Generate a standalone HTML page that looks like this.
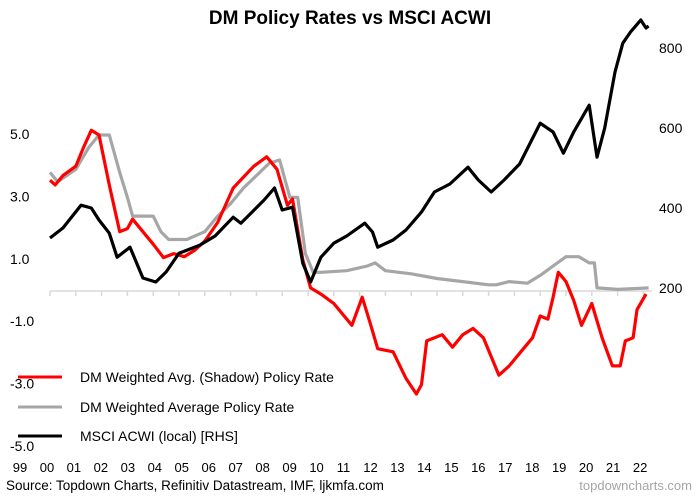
<!DOCTYPE html>
<html><head><meta charset="utf-8"><style>
body{margin:0;background:#fff;}
svg text{font-family:"Liberation Sans",Arial,sans-serif;}
</style></head><body>
<svg id="chart" width="700" height="495" viewBox="0 0 700 495" xmlns="http://www.w3.org/2000/svg">
<text x="350" y="24" text-anchor="middle" font-size="19" font-weight="bold">DM Policy Rates vs MSCI ACWI</text>
<g id="axes"></g>
<g id="series"></g>
<g>
<line x1="18" y1="377" x2="62" y2="377" stroke="#ff0000" stroke-width="3"/>
<text x="80" y="382" font-size="14">DM Weighted Avg. (Shadow) Policy Rate</text>
<line x1="18" y1="407" x2="62" y2="407" stroke="#a6a6a6" stroke-width="3"/>
<text x="80" y="412" font-size="14">DM Weighted Average Policy Rate</text>
<line x1="18" y1="436" x2="62" y2="436" stroke="#000" stroke-width="3"/>
<text x="80" y="441" font-size="14">MSCI ACWI (local) [RHS]</text>
</g>
<text x="6" y="490" font-size="13.5">Source: Topdown Charts, Refinitiv Datastream, IMF, ljkmfa.com</text>
<text x="692" y="490" font-size="13" fill="#a6a6a6" text-anchor="end">topdowncharts.com</text>
</svg>
<script>
const leftTicks=[5,3,1,-1,-3,-5];
const leftTickLabels=["5.0","3.0","1.0","-1.0","-3.0","-5.0"];
const rightTicks=[800,600,400,200];
const yearLabels=["99","00","01","02","03","04","05","06","07","08","09","10","11","12","13","14","15","16","17","18","19","20","21","22"];
const redYears=[1999.0,1999.2,1999.5,2000.0,2000.3,2000.6,2000.9,2001.3,2001.7,2002.0,2002.2,2002.6,2003.0,2003.4,2003.8,2004.2,2004.6,2005.0,2005.5,2006.1,2006.9,2007.4,2007.8,2008.2,2008.4,2008.8,2009.1,2009.5,2010.0,2010.7,2011.1,2011.4,2011.7,2012.3,2012.8,2013.2,2013.4,2013.6,2014.2,2014.6,2015.0,2015.4,2015.8,2016.4,2016.8,2017.3,2017.7,2018.0,2018.3,2018.5,2018.7,2019.0,2019.3,2019.6,2020.0,2020.4,2020.8,2021.1,2021.3,2021.6,2021.75,2022.1];
const redValues=[3.55,3.4,3.7,4.0,4.6,5.15,5.0,3.4,1.9,2.0,2.3,1.9,1.5,1.07,1.2,1.1,1.3,1.6,2.2,3.3,4.0,4.3,3.9,2.75,2.95,1.0,0.1,-0.1,-0.4,-1.1,-0.2,-1.0,-1.85,-1.95,-2.8,-3.3,-3.0,-1.6,-1.4,-1.8,-1.4,-1.2,-1.5,-2.7,-2.4,-1.9,-1.5,-0.8,-0.9,-0.2,0.6,0.3,-0.3,-1.1,-0.4,-1.5,-2.4,-2.4,-1.6,-1.5,-0.6,-0.1];
const grayYears=[1999.0,1999.3,2000.0,2000.5,2000.9,2001.3,2001.7,2002.0,2002.2,2003.0,2003.3,2003.6,2004.3,2005.0,2005.5,2006.0,2006.5,2007.0,2007.5,2007.9,2008.3,2008.6,2008.9,2009.2,2009.5,2010.5,2011.3,2011.6,2012.0,2013.0,2014.0,2015.0,2016.0,2016.3,2016.8,2017.5,2018.0,2018.5,2019.0,2019.5,2019.9,2020.1,2020.2,2021.0,2022.2];
const grayValues=[3.8,3.5,3.9,4.6,5.0,5.0,3.8,3.0,2.4,2.4,1.9,1.65,1.65,1.9,2.4,2.8,3.3,3.7,4.1,4.2,3.0,3.0,1.2,0.6,0.6,0.65,0.8,0.9,0.65,0.55,0.4,0.3,0.2,0.2,0.3,0.25,0.5,0.8,1.1,1.1,0.9,0.9,0.1,0.05,0.1];
const blackYears=[1999.0,1999.5,2000.2,2000.6,2000.9,2001.3,2001.6,2002.1,2002.6,2003.1,2003.5,2004.0,2004.8,2005.4,2006.1,2006.4,2007.3,2007.7,2008.0,2008.4,2008.8,2009.1,2009.5,2010.0,2010.5,2011.2,2011.5,2011.7,2012.3,2012.8,2013.4,2013.9,2014.5,2015.2,2015.6,2016.1,2016.6,2017.2,2018.0,2018.5,2018.9,2019.3,2019.9,2020.2,2020.5,2020.9,2021.2,2021.5,2021.9,2022.1,2022.2];
const blackValues=[325,350,407,400,370,337,277,302,225,215,240,287,307,330,377,362,420,450,395,402,262,215,277,312,330,362,340,302,320,345,390,440,460,502,470,440,470,510,612,590,537,590,657,527,600,740,812,840,870,850,855];

const X0=50,PX=25.8,Y0=291,PL=31.2,R0=368,PR=0.4;
const xs=y=>X0+(y-1999)*PX, yl=v=>Y0-v*PL, yr=v=>R0-v*PR;
const NS="http://www.w3.org/2000/svg";
const axes=document.getElementById('axes'), ser=document.getElementById('series');
function mk(tag,attrs,parent){const e=document.createElementNS(NS,tag);for(const k in attrs)e.setAttribute(k,attrs[k]);parent.appendChild(e);return e;}
const zl=mk('line',{x1:X0,y1:Y0,x2:652,y2:Y0,stroke:'#d9d9d9','stroke-width':1.5},axes);


for(let i=0;i<=23;i++){
  const t=mk('line',{x1:xs(1999+i),y1:Y0,x2:xs(1999+i),y2:Y0+5,stroke:'#d9d9d9','stroke-width':1.5},axes);
  
  
}
yearLabels.forEach((l,i)=>{
  const t=mk('text',{x:20+i*26.96,y:472,'font-size':13,'text-anchor':'middle'},axes);t.textContent=l;
  
  
});
leftTicks.forEach((v,i)=>{
  const t=mk('text',{x:10,y:yl(v)+4,'font-size':14},axes);t.textContent=leftTickLabels[i];
  
  
});
rightTicks.forEach(v=>{
  const t=mk('text',{x:659,y:yr(v)+5,'font-size':14},axes);t.textContent=String(v);
  
  
});
function line(ys,vs,f,color,name){
  const d=ys.map((y,i)=>(i?'L':'M')+xs(y).toFixed(1)+','+f(vs[i]).toFixed(1)).join(' ');
  const p=mk('path',{d:d,fill:'none',stroke:color,'stroke-width':3.2,'stroke-linejoin':'round'},ser);
  
  
}
line(grayYears,grayValues,yl,'#a6a6a6','policy-rate-line');
line(redYears,redValues,yl,'#ff0000','shadow-rate-line');
line(blackYears,blackValues,yr,'#000000','msci-acwi-line');
</script>
</body></html>
